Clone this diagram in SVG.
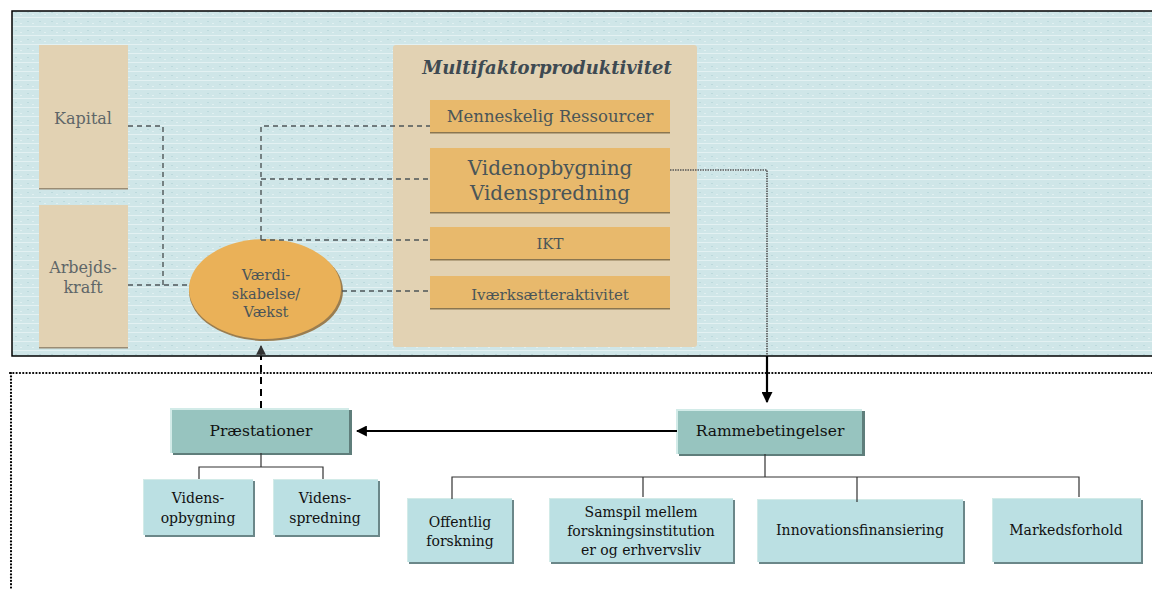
<svg xmlns="http://www.w3.org/2000/svg" width="1152" height="589" viewBox="0 0 1152 589">
<defs>
<style>
.tan{fill:#e2d2b3;}
.org{fill:#e8b96c;}
.dash{fill:none;stroke:#4e5658;stroke-width:1.4;stroke-dasharray:5 4;}
.tree{fill:none;stroke:#333;stroke-width:1.2;}
.bold{fill:none;stroke:#000;stroke-width:2.2;}
.sh{fill:#6b8789;}
.hd{fill:#97c4bf;}
.lt{fill:#bbe0e3;}
.hl{fill:#d2ebe8;}
text{font-family:"DejaVu Serif","Liberation Serif",serif;text-anchor:middle;}
.t1{font-size:16px;fill:#5e6668;}
.t2{font-size:15px;fill:#4a5558;}
.t3{font-size:14px;fill:#111;}
.t4{font-size:15.5px;fill:#111;}
</style>
<pattern id="tex" width="12" height="9" patternUnits="userSpaceOnUse">
<rect width="12" height="9" fill="#cfe6e8"/>
<rect y="8" width="12" height="1" fill="#e3f1f2"/>
<rect x="3" y="3" width="2" height="1" fill="#bcd9dc"/>
<rect x="8" y="5" width="2" height="1" fill="#e1f0f1"/>
</pattern>
<marker id="ah" viewBox="0 0 10 10" refX="9" refY="5" markerWidth="5" markerHeight="5" orient="auto-start-reverse">
<path d="M0,0 L10,5 L0,10 z" fill="#000"/>
</marker>
<marker id="ahs" viewBox="0 0 10 10" refX="9" refY="5" markerWidth="7" markerHeight="7" orient="auto-start-reverse">
<path d="M0,0 L10,5 L0,10 z" fill="#333"/>
</marker>
</defs>

<!-- top panel -->
<rect id="panel" x="12" y="11" width="1145" height="345" fill="url(#tex)" stroke="#000" stroke-width="1.5"/>

<g id="kapital">
<rect class="tan" x="39" y="45" width="89" height="144"/>
<rect x="39" y="188" width="89" height="1.5" fill="#9a8c74"/>
<text class="t1" x="83" y="124">Kapital</text>
</g>

<g id="arbejdskraft">
<rect class="tan" x="39" y="205" width="89" height="143"/>
<rect x="39" y="347" width="89" height="1.5" fill="#9a8c74"/>
<text class="t1" x="83" y="273">Arbejds-</text>
<text class="t1" x="83" y="293">kraft</text>
</g>

<g id="multifaktor">
<rect class="tan" x="393" y="45" width="304" height="302" rx="3"/>
<text x="547" y="74" style="font-size:18px;font-weight:bold;font-style:italic;fill:#3e4a52">Multifaktorproduktivitet</text>
</g>

<g id="menneskelig">
<rect class="org" x="430" y="100" width="240" height="33"/>
<rect x="430" y="132" width="240" height="1.5" fill="#8a7650"/>
<text class="t2" x="550" y="122" style="font-size:16.5px">Menneskelig Ressourcer</text>
</g>

<g id="viden">
<rect class="org" x="430" y="148" width="240" height="65"/>
<rect x="430" y="212" width="240" height="1.5" fill="#8a7650"/>
<text class="t2" x="550" y="175" style="font-size:20px">Videnopbygning</text>
<text class="t2" x="550" y="200" style="font-size:20px">Videnspredning</text>
</g>

<g id="ikt">
<rect class="org" x="430" y="227" width="240" height="33"/>
<rect x="430" y="259" width="240" height="1.5" fill="#8a7650"/>
<text class="t2" x="550" y="249">IKT</text>
</g>

<g id="ivaerk">
<rect class="org" x="430" y="276" width="240" height="33"/>
<rect x="430" y="308" width="240" height="1.5" fill="#8a7650"/>
<text class="t2" x="550" y="300">Iværksætteraktivitet</text>
</g>

<g id="vaerdiskabelse">
<ellipse cx="266" cy="291" rx="77" ry="50" fill="#9a7d50"/>
<ellipse cx="265" cy="289" rx="76" ry="50" fill="#eab158"/>
<text class="t2" x="266" y="280" style="font-size:14.5px">Værdi-</text>
<text class="t2" x="266" y="299" style="font-size:14.5px">skabelse/</text>
<text class="t2" x="266" y="317" style="font-size:14.5px">Vækst</text>
</g>

<g id="praestationer">
<rect x="173" y="410" width="179" height="45" fill="#5f7e7b"/>
<rect class="hl" x="170" y="408" width="179" height="45"/>
<rect class="hd" x="172" y="410" width="177" height="43"/>
<text class="t4" x="261" y="436">Præstationer</text>
</g>

<g id="rammebetingelser">
<rect x="679" y="411" width="186" height="45" fill="#5f7e7b"/>
<rect class="hl" x="676" y="409" width="186" height="45"/>
<rect class="hd" x="678" y="411" width="184" height="43"/>
<text class="t4" x="770" y="436">Rammebetingelser</text>
</g>

<g id="vidensopbygning">
<rect class="sh" x="145" y="481" width="110" height="56"/>
<rect class="hl" x="143" y="479" width="110" height="56"/>
<rect class="lt" x="144" y="480" width="109" height="55"/>
<text class="t3" x="198" y="503">Videns-</text>
<text class="t3" x="198" y="523">opbygning</text>
</g>

<g id="vidensspredning">
<rect class="sh" x="275" y="481" width="105" height="56"/>
<rect class="hl" x="273" y="479" width="105" height="56"/>
<rect class="lt" x="274" y="480" width="104" height="55"/>
<text class="t3" x="325" y="503">Videns-</text>
<text class="t3" x="325" y="523">spredning</text>
</g>

<g id="offentlig">
<rect class="sh" x="409" y="500" width="105" height="64"/>
<rect class="hl" x="407" y="498" width="105" height="64"/>
<rect class="lt" x="408" y="499" width="104" height="63"/>
<text class="t3" x="460" y="527">Offentlig</text>
<text class="t3" x="460" y="546">forskning</text>
</g>

<g id="samspil">
<rect class="sh" x="551" y="500" width="184" height="64"/>
<rect class="hl" x="549" y="498" width="184" height="64"/>
<rect class="lt" x="550" y="499" width="183" height="63"/>
<text class="t3" x="641" y="517">Samspil mellem</text>
<text class="t3" x="641" y="536">forskningsinstitution</text>
<text class="t3" x="641" y="555">er og erhvervsliv</text>
</g>

<g id="innovation">
<rect class="sh" x="759" y="501" width="206" height="63"/>
<rect class="hl" x="757" y="499" width="206" height="63"/>
<rect class="lt" x="758" y="500" width="205" height="62"/>
<text class="t3" x="860" y="535">Innovationsfinansiering</text>
</g>

<g id="markeds">
<rect class="sh" x="994" y="500" width="149" height="64"/>
<rect class="hl" x="992" y="498" width="149" height="64"/>
<rect class="lt" x="993" y="499" width="148" height="63"/>
<text class="t3" x="1066" y="535">Markedsforhold</text>
</g>

<g id="connectors">
<path class="dash" d="M128,126 H163 V285"/>
<path class="dash" d="M128,285 H190"/>
<path class="dash" d="M261,240 V126 H430"/>
<path class="dash" d="M261,179 H430"/>
<path class="dash" d="M261,240 H430"/>
<path class="dash" d="M342,291 H430"/>
<path d="M670,170 H767 V356" fill="none" stroke="#555" stroke-width="1.6" stroke-dasharray="1.5 1"/>
<path class="bold" d="M767,356 V402" marker-end="url(#ah)"/>
<path d="M261,408 V356" fill="none" stroke="#000" stroke-width="2" stroke-dasharray="7 5"/>
<path d="M261,356 V346" fill="none" stroke="#333" stroke-width="1.4" marker-end="url(#ahs)"/>
<path class="bold" d="M677,431 H357" marker-end="url(#ah)"/>
<path class="tree" d="M261,453 V467 M199,479 V467 H323 V479"/>
<path class="tree" d="M765,454 V477 M452,499 V477 H1079 V497 M643,477 V497 M857,477 V502"/>
<path d="M10,373 H1152 M11,373 V589" fill="none" stroke="#000" stroke-width="2.2" stroke-dasharray="0.1 3.2" stroke-linecap="round"/>
</g>
</svg>
